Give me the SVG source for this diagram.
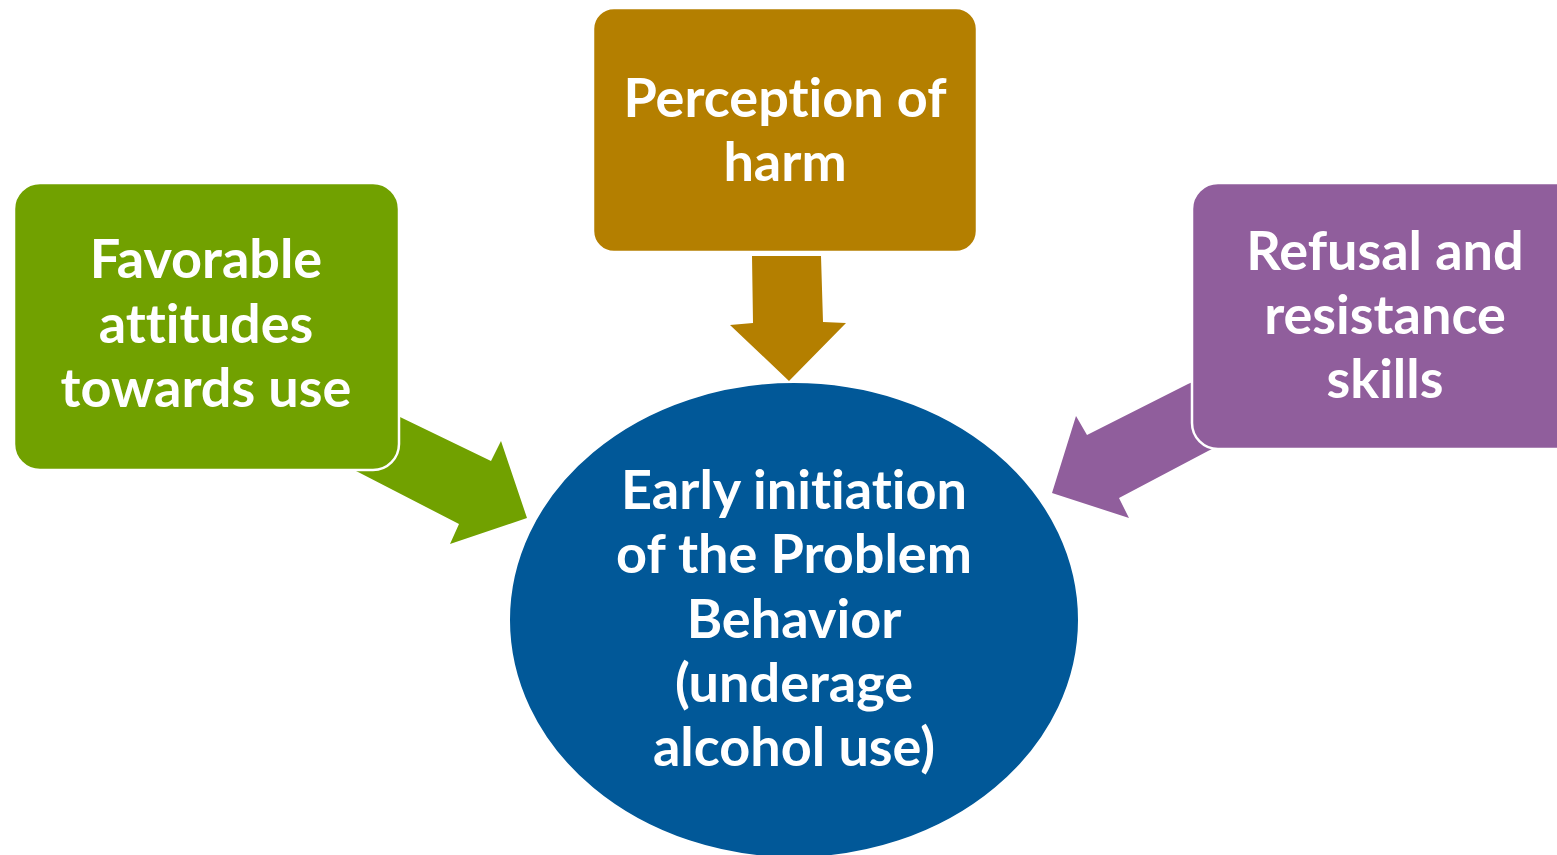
<svg xmlns="http://www.w3.org/2000/svg" width="1557" height="855" viewBox="0 0 1557 855">
  <style>
    .label { font-family: Lato, "Liberation Sans", sans-serif; font-weight: 700; font-size: 54px; fill: #ffffff; text-anchor: middle; font-variant-ligatures: none; font-feature-settings: "liga" 0, "clig" 0; }
    .box { stroke: #ffffff; stroke-width: 2.5; }
  </style>
  <rect width="1557" height="855" fill="#ffffff"/>

  <!-- block arrows pointing into the central ellipse -->
  <g id="connectors">
    <polygon fill="#71A100" points="370,402 400,417 491,461 501,441 527,518 450,544 459,524 360,473 330,458"/>
    <polygon fill="#B47F00" points="752,256 821,256 823,322 846,323 789,381 730,325 753,323"/>
    <polygon fill="#905E9C" points="1220,370 1188,384 1087,435 1076,416 1052,493 1129,518 1119,498 1208,451 1230,440"/>
  </g>

  <g id="node-attitudes">
    <rect class="box" x="14" y="183" width="385" height="287" rx="26" fill="#71A100"/>
    <text class="label" x="206" y="278">Favorable</text>
    <text class="label" x="206" y="343">attitudes</text>
    <text class="label" x="206" y="407">towards use</text>
  </g>

  <g id="node-harm">
    <rect class="box" x="593" y="8" width="384" height="244" rx="21" fill="#B47F00"/>
    <text class="label" x="785" y="117">Perception of</text>
    <text class="label" x="785" y="181">harm</text>
  </g>

  <g id="node-refusal">
    <rect class="box" x="1192" y="183" width="400" height="266" rx="26" fill="#905E9C"/>
    <text class="label" x="1385" y="270">Refusal and</text>
    <text class="label" x="1385" y="334">resistance</text>
    <text class="label" x="1385" y="398">skills</text>
  </g>

  <g id="node-behavior">
    <ellipse cx="794" cy="620" rx="285" ry="238" fill="#015898" stroke="#ffffff" stroke-width="2"/>
    <text class="label" x="794" y="509">Early initiation</text>
    <text class="label" x="794" y="573">of the Problem</text>
    <text class="label" x="794" y="638">Behavior</text>
    <text class="label" x="794" y="702">(underage</text>
    <text class="label" x="794" y="766">alcohol use)</text>
  </g>
</svg>
